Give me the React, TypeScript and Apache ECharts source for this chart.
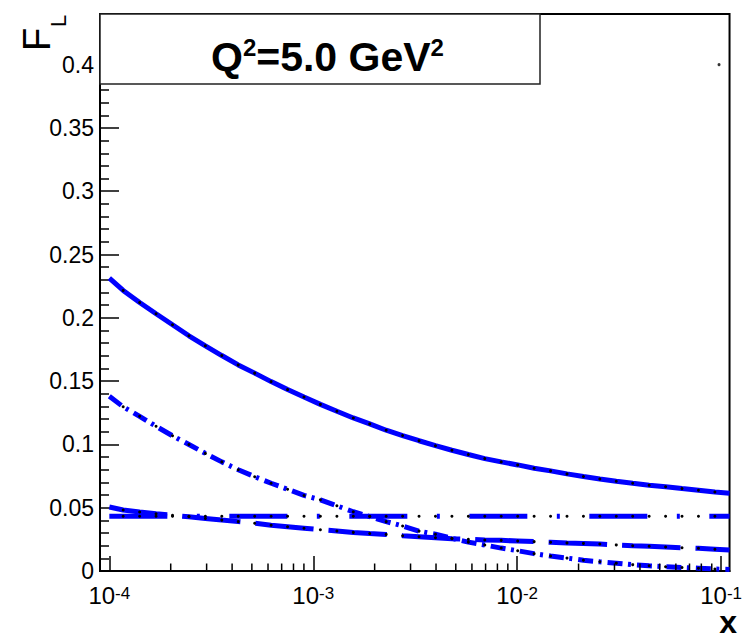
import React, { useEffect, useRef } from "react";
import * as echarts from "echarts";

// x positions of the plotted points (log scale)
const xValues = [
  1.0e-4, 1.169e-4, 1.408e-4, 1.695e-4, 2.041e-4, 2.457e-4, 2.958e-4, 3.561e-4, 4.287e-4,
  5.162e-4, 6.214e-4, 7.482e-4, 9.007e-4, 1.084e-3, 1.306e-3, 1.572e-3, 1.892e-3, 2.278e-3,
  2.743e-3, 3.302e-3, 3.975e-3, 4.786e-3, 5.762e-3, 6.937e-3, 8.351e-3, 1.006e-2, 1.211e-2,
  1.458e-2, 1.755e-2, 2.113e-2, 2.543e-2, 3.062e-2, 3.686e-2, 4.438e-2, 5.343e-2, 6.432e-2,
  7.745e-2, 9.324e-2, 0.11,
];

// solid curve
const solidValues = [
  0.2314, 0.2216, 0.2121, 0.2032, 0.1945, 0.1858, 0.1779, 0.1702, 0.1628, 0.1563, 0.1496,
  0.1433, 0.1374, 0.1316, 0.1262, 0.1209, 0.1162, 0.1112, 0.107, 0.1029, 0.099, 0.0954,
  0.092, 0.0888, 0.0862, 0.0838, 0.0812, 0.0791, 0.0767, 0.0746, 0.0727, 0.0709, 0.0693,
  0.0677, 0.0665, 0.0651, 0.0638, 0.0624, 0.0614,
];

// dash-dot curve (falls to zero)
const dashDotValues = [
  0.138, 0.1297, 0.1222, 0.1143, 0.1068, 0.0999, 0.0929, 0.0862, 0.08, 0.0745, 0.0693,
  0.0646, 0.0597, 0.0562, 0.0515, 0.0468, 0.043, 0.039, 0.0356, 0.0315, 0.029, 0.0258,
  0.0228, 0.0205, 0.0181, 0.016, 0.0137, 0.0118, 0.0102, 0.0085, 0.0073, 0.0062, 0.005,
  0.0041, 0.0034, 0.0028, 0.0022, 0.0016, 0.0012,
];

// long-dashed curve
const longDashValues = [
  0.0506, 0.0482, 0.0466, 0.0452, 0.044, 0.0428, 0.0415, 0.0402, 0.039, 0.0377, 0.0362,
  0.035, 0.0338, 0.0326, 0.0316, 0.0305, 0.0296, 0.0289, 0.0279, 0.0271, 0.0263, 0.0255,
  0.025, 0.0245, 0.0242, 0.0237, 0.0232, 0.0227, 0.0222, 0.0218, 0.0213, 0.0206, 0.02,
  0.0195, 0.019, 0.0184, 0.0179, 0.0172, 0.0165,
];

// flat long-dash-dot line
const flatValues = [
  0.0432, 0.0432, 0.0432, 0.0432, 0.0432, 0.0432, 0.0432, 0.0432, 0.0432, 0.0432, 0.0432,
  0.0432, 0.0432, 0.0432, 0.0432, 0.0432, 0.0432, 0.0432, 0.0432, 0.0432, 0.0432, 0.0432,
  0.0432, 0.0432, 0.0432, 0.0432, 0.0432, 0.0432, 0.0432, 0.0432, 0.0432, 0.0432, 0.0432,
  0.0432, 0.0432, 0.0432, 0.0432, 0.0432, 0.0432,
];

// stray marker near the top right
const strayPoint = [0.0977, 0.4];

// minor tick positions on the log x axis
const xMinorTicks = [
  2e-4, 3e-4, 4e-4, 5e-4, 6e-4, 7e-4, 8e-4, 9e-4,
  2e-3, 3e-3, 4e-3, 5e-3, 6e-3, 7e-3, 8e-3, 9e-3,
  2e-2, 3e-2, 4e-2, 5e-2, 6e-2, 7e-2, 8e-2, 9e-2,
];

const yTickLabels = ["0", "0.05", "0.1", "0.15", "0.2", "0.25", "0.3", "0.35", "0.4"];

const FONT = "'Liberation Sans', Arial, Helvetica, sans-serif";
const BLUE = "#0000ff";

function curve(name: string, ys: number[], dash: any) {
  const last = xValues.length - 1;
  return {
    name,
    type: "line",
    data: xValues.map((x, i) => [x, ys[i]]),
    showSymbol: true,
    showAllSymbol: true,
    symbol: "circle",
    symbolSize: (_v: any, p: any) => (p.dataIndex === 0 || p.dataIndex === last ? 0 : 3),
    itemStyle: { color: "#000" },
    lineStyle: { color: BLUE, width: 5, type: dash, cap: "butt" },
    silent: true,
    emphasis: { disabled: true },
    z: 3,
  };
}

export default function App() {
  const ref = useRef<HTMLDivElement>(null);
  useEffect(() => {
    if (!ref.current) return;
    const chart = echarts.init(ref.current, null, { renderer: "svg" });
    const option: any = {
      animation: false,
      grid: {
        left: 100,
        right: 7,
        top: 14,
        bottom: 67,
        show: true,
        borderColor: "#000",
        borderWidth: 2,
        backgroundColor: "transparent",
      },
      xAxis: {
        type: "log",
        logBase: 10,
        min: 9e-5,
        max: 0.11,
        axisLine: { show: true, onZero: false, lineStyle: { color: "#000", width: 2 } },
        axisTick: { show: true, inside: true, length: 15, lineStyle: { color: "#000", width: 1.5 } },
        minorTick: { show: false },
        splitLine: { show: false },
        axisLabel: {
          showMinLabel: false,
          showMaxLabel: false,
          margin: 14,
          formatter: (v: number) => {
            const e = Math.log10(v);
            const r = Math.round(e);
            if (Math.abs(e - r) > 0.01) return "";
            return "{b|10}{s|" + r + "}";
          },
          rich: {
            b: { fontSize: 24, fontFamily: FONT, color: "#000", lineHeight: 21 },
            s: { fontSize: 17, fontFamily: FONT, color: "#000", lineHeight: 2, verticalAlign: "top" },
          },
        },
      },
      yAxis: {
        type: "value",
        min: 0,
        max: 0.44,
        interval: 0.05,
        axisLine: { show: true, lineStyle: { color: "#000", width: 2 } },
        axisTick: { show: true, inside: true, length: 19, lineStyle: { color: "#000", width: 1.5 } },
        minorTick: { show: true, splitNumber: 5, length: 9, lineStyle: { color: "#000", width: 1.5 } },
        splitLine: { show: false },
        axisLabel: {
          showMaxLabel: false,
          margin: 6,
          fontSize: 23,
          fontFamily: FONT,
          color: "#000",
          formatter: (v: number) => {
            const idx = Math.round(v / 0.05);
            return yTickLabels[idx] !== undefined && Math.abs(v - idx * 0.05) < 1e-6 ? yTickLabels[idx] : "";
          },
        },
      },
      series: [
        curve("solid", solidValues, "solid"),
        curve("dashdot", dashDotValues, [15, 5.5, 3, 6]),
        curve("longdash", longDashValues, [58.5, 15]),
        curve("flat", flatValues, [58, 29.5, 3, 29.5]),
        {
          type: "scatter",
          data: [strayPoint],
          symbol: "circle",
          symbolSize: 3,
          itemStyle: { color: "#000" },
          silent: true,
          z: 4,
        },
        {
          type: "custom",
          coordinateSystem: "cartesian2d",
          silent: true,
          data: xMinorTicks.map((x) => [x, 0]),
          renderItem: (_params: any, api: any) => {
            const p = api.coord([api.value(0), 0]);
            return {
              type: "line",
              shape: { x1: p[0], y1: p[1], x2: p[0], y2: p[1] - 7.5 },
              style: { stroke: "#000", lineWidth: 1.5 },
            };
          },
          z: 5,
        },
      ],
      graphic: [
        {
          type: "rect",
          shape: { x: 100, y: 14, width: 440, height: 70 },
          style: { fill: "#fff", stroke: "#222", lineWidth: 1.5 },
          z: 50,
        },
        {
          type: "text",
          x: 211,
          y: 57,
          z: 51,
          style: {
            text: "{q|Q}{s|2}{q|=5.0 GeV}{s|2}",
            fill: "#000",
            align: "left",
            verticalAlign: "middle",
            textAlign: "left",
            textVerticalAlign: "middle",
            rich: {
              q: { fontSize: 41, fontWeight: "bold", fontFamily: FONT, lineHeight: 44 },
              s: { fontSize: 24, fontWeight: "bold", fontFamily: FONT, lineHeight: 10, verticalAlign: "top" },
            },
          },
        },
        {
          type: "text",
          x: 37,
          y: 51,
          rotation: Math.PI / 2,
          z: 51,
          style: {
            text: "F",
            fill: "#000",
            font: "38px " + FONT,
            align: "left",
            verticalAlign: "middle",
            textAlign: "left",
            textVerticalAlign: "middle",
          },
        },
        {
          type: "text",
          x: 58.5,
          y: 27,
          rotation: Math.PI / 2,
          z: 51,
          style: {
            text: "L",
            fill: "#000",
            font: "22px " + FONT,
            align: "left",
            verticalAlign: "middle",
            textAlign: "left",
            textVerticalAlign: "middle",
          },
        },
        {
          type: "text",
          x: 737,
          y: 622,
          z: 51,
          style: {
            text: "x",
            fill: "#000",
            font: "bold 32px " + FONT,
            lineHeight: 20,
            align: "right",
            verticalAlign: "middle",
            textAlign: "right",
            textVerticalAlign: "middle",
          },
        },
      ],
    };
    chart.setOption(option);
    return () => chart.dispose();
  }, []);
  return (
    <div
      ref={ref}
      style={{ position: "fixed", left: 0, top: 0, width: 745, height: 638, background: "#fff" }}
    />
  );
}
